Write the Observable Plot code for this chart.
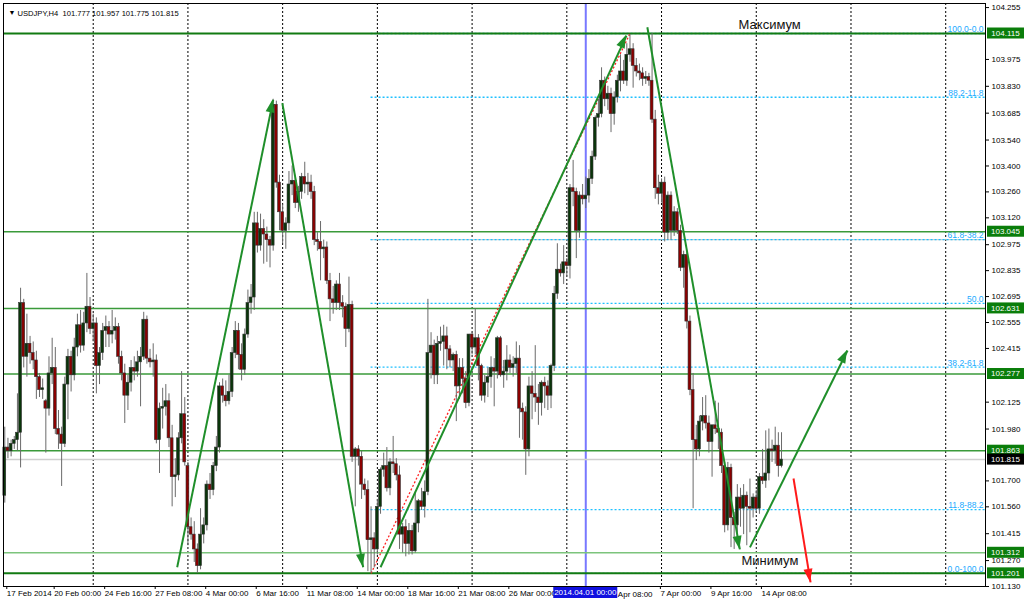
<!DOCTYPE html>
<html><head><meta charset="utf-8">
<script src="https://cdn.jsdelivr.net/npm/d3@7"></script>
<script src="https://cdn.jsdelivr.net/npm/@observablehq/plot@0.6"></script>
<style>
body{margin:0;background:#fff;}
#chart{width:1024px;height:602px;overflow:hidden;}
</style></head><body><div id="chart"></div>
<script>
// ---- candle data (USDJPY H4), bar index 0..246 ----
const open = [
101.62,101.88,101.86,101.90,101.92,101.96,102.66,102.37,102.44,102.39,
102.35,102.26,102.19,102.13,102.09,102.28,102.31,101.98,101.95,101.90,
102.22,102.37,102.27,102.42,102.54,102.43,102.55,102.64,102.52,102.55,
102.32,102.39,102.51,102.53,102.49,102.51,102.53,102.37,102.28,102.16,
102.23,102.31,102.29,102.34,102.37,102.57,102.36,102.34,102.35,101.92,
102.09,102.10,102.13,101.93,101.72,101.73,101.93,102.06,101.78,101.45,
101.41,101.33,101.24,101.41,101.46,101.68,101.65,101.78,101.88,102.21,
102.16,102.13,102.18,102.39,102.51,102.38,102.30,102.49,102.66,102.69,
103.09,102.97,103.06,103.03,103.00,102.97,103.73,103.31,103.15,103.05,
103.09,103.30,103.32,103.20,103.26,103.34,103.30,103.31,103.26,103.00,
102.99,102.95,102.96,102.78,102.68,102.66,102.76,102.66,102.64,102.52,
102.65,101.83,101.87,101.83,101.68,101.65,101.38,101.39,101.33,101.56,
101.76,101.78,101.66,101.80,101.79,101.73,101.41,101.45,101.36,101.43,
101.32,101.47,101.59,101.56,101.64,102.39,102.43,102.27,102.44,102.45,
102.48,102.41,102.35,102.38,102.21,102.31,102.25,102.12,102.49,102.42,
102.47,102.32,102.16,102.23,102.26,102.31,102.29,102.47,102.27,102.29,
102.35,102.31,102.33,102.36,102.09,102.07,101.87,102.21,102.17,102.15,
102.12,102.23,102.21,102.16,102.32,102.71,102.84,102.82,102.88,102.86,
103.28,103.26,103.05,103.24,103.22,103.24,103.33,103.45,103.66,103.68,
103.86,103.76,103.79,103.68,103.77,103.86,103.91,103.86,104.00,104.03,
103.94,103.91,103.90,103.87,103.88,103.86,103.65,103.28,103.25,103.31,
103.04,103.24,103.05,103.15,103.05,102.85,102.92,102.56,102.19,101.92,
101.87,102.02,102.05,102.01,101.91,102.00,101.98,101.96,101.78,101.46,
101.77,101.50,101.46,101.61,101.55,101.62,101.56,101.55,101.61,101.55,
101.72,101.70,101.74,101.87,101.86,101.89,101.78];
const high = [
101.99,101.93,101.92,101.94,102.17,102.74,102.68,102.60,102.48,102.45,
102.40,102.28,102.25,102.14,102.37,102.47,102.42,102.08,101.99,102.26,
102.41,102.40,102.47,102.60,102.62,102.61,102.82,102.69,102.60,102.58,
102.42,102.55,102.59,102.56,102.62,102.58,102.55,102.40,102.33,102.27,
102.35,102.37,102.40,102.42,102.61,102.59,102.41,102.44,102.38,102.12,
102.20,102.22,102.17,102.00,101.82,101.96,102.29,102.15,101.80,101.50,
101.48,101.36,101.55,101.50,101.70,101.74,101.80,101.94,102.23,102.25,
102.24,102.27,102.42,102.56,102.55,102.44,102.52,102.73,102.76,103.15,
103.15,103.14,103.11,103.07,103.02,103.76,103.75,103.35,103.19,103.12,
103.37,103.40,103.34,103.29,103.36,103.42,103.36,103.35,103.29,103.04,
103.10,103.00,102.99,102.82,102.75,102.78,102.82,102.70,102.66,102.80,
102.67,101.88,101.89,101.86,101.71,101.70,101.56,101.42,101.60,101.77,
101.85,101.88,101.82,101.94,101.82,101.78,101.47,101.49,101.47,101.46,
101.64,101.60,101.66,101.70,102.68,102.50,102.46,102.48,102.53,102.54,
102.53,102.43,102.39,102.40,102.36,102.36,102.29,102.49,102.50,102.63,
102.49,102.33,102.27,102.31,102.37,102.36,102.48,102.48,102.35,102.43,
102.38,102.37,102.45,102.43,102.12,102.10,102.26,102.29,102.43,102.22,
102.24,102.26,102.24,102.33,102.75,102.98,102.87,102.97,102.90,103.30,
103.43,103.28,103.26,103.30,103.34,103.38,103.48,103.67,103.76,103.93,
103.88,103.83,103.82,103.80,103.89,104.00,103.97,104.06,104.11,104.06,
103.98,103.95,103.93,103.91,103.90,104.115,103.70,103.35,103.33,103.34,
103.26,103.26,103.18,103.17,103.08,102.94,102.94,102.59,102.28,102.00,
102.05,102.15,102.16,102.05,102.00,102.13,102.12,101.98,101.80,101.80,
101.79,101.53,101.68,101.66,101.68,101.64,101.71,101.63,101.65,101.74,
101.87,101.97,101.98,101.92,101.99,101.96,101.96];
const low = [
101.58,101.82,101.83,101.87,101.86,101.77,102.31,102.26,102.33,102.30,
102.14,102.15,102.14,101.85,102.05,102.22,101.95,101.87,101.67,101.88,
102.03,102.18,102.24,102.37,102.39,102.40,102.50,102.49,102.45,102.17,
102.22,102.35,102.42,102.42,102.44,102.46,102.33,102.24,102.01,102.08,
102.18,102.24,102.26,102.10,102.35,102.33,102.31,102.26,101.90,101.74,
101.98,102.05,101.88,101.56,101.61,101.70,101.90,101.78,101.35,101.38,
101.26,101.20,101.22,101.36,101.43,101.60,101.62,101.75,101.85,102.12,
102.10,102.11,102.15,102.36,102.30,102.24,102.27,102.47,102.60,102.62,
102.93,102.94,102.87,102.88,102.85,102.94,103.28,103.05,102.98,102.95,
103.05,103.24,103.17,103.15,103.22,103.25,103.24,103.22,102.97,102.94,
102.78,102.90,102.76,102.56,102.60,102.62,102.62,102.58,102.42,102.50,
101.80,101.56,101.78,101.60,101.62,101.21,101.201,101.23,101.30,101.52,
101.72,101.64,101.62,101.74,101.70,101.33,101.31,101.29,101.30,101.30,
101.31,101.42,101.54,101.50,101.62,102.25,102.22,102.22,102.40,102.32,
102.30,102.31,102.29,102.02,102.14,102.17,102.09,102.10,102.38,102.38,
102.24,102.13,102.12,102.15,102.20,102.10,102.25,102.26,102.20,102.24,
102.28,102.26,102.28,101.93,101.92,101.73,101.83,102.03,102.07,102.00,
102.05,102.09,102.08,102.09,102.29,102.68,102.80,102.76,102.80,102.79,
103.18,102.90,103.01,103.19,103.17,103.20,103.30,103.43,103.61,103.66,
103.72,103.70,103.58,103.62,103.74,103.80,103.84,103.83,103.96,103.82,
103.88,103.86,103.83,103.84,103.83,103.63,103.22,103.19,103.20,102.99,
103.00,103.00,103.02,103.03,102.83,102.74,102.52,102.16,101.55,101.81,
101.83,101.97,101.98,101.85,101.72,101.95,101.87,101.74,101.42,101.43,
101.34,101.33,101.40,101.45,101.41,101.35,101.42,101.50,101.53,101.52,
101.68,101.66,101.70,101.80,101.79,101.72,101.77];
const close = [
101.88,101.86,101.90,101.92,101.96,102.66,102.37,102.44,102.39,102.35,
102.26,102.19,102.20,102.09,102.28,102.31,101.98,101.95,101.90,102.22,
102.37,102.27,102.42,102.54,102.43,102.55,102.64,102.52,102.55,102.32,
102.39,102.51,102.53,102.49,102.51,102.53,102.37,102.28,102.16,102.23,
102.31,102.29,102.34,102.37,102.57,102.36,102.34,102.35,101.92,102.09,
102.10,102.13,101.93,101.72,101.73,101.93,102.06,101.80,101.45,101.41,
101.33,101.24,101.41,101.46,101.68,101.65,101.78,101.88,102.21,102.16,
102.13,102.18,102.39,102.51,102.38,102.30,102.49,102.66,102.69,103.09,
102.97,103.06,103.03,103.00,102.97,103.73,103.31,103.15,103.05,103.09,
103.30,103.32,103.20,103.26,103.34,103.30,103.31,103.26,103.00,102.99,
102.95,102.96,102.78,102.68,102.66,102.76,102.66,102.64,102.52,102.65,
101.83,101.87,101.83,101.68,101.65,101.38,101.39,101.33,101.56,101.76,
101.78,101.66,101.80,101.79,101.73,101.41,101.45,101.36,101.43,101.32,
101.47,101.59,101.56,101.64,102.39,102.43,102.27,102.44,102.45,102.48,
102.41,102.35,102.38,102.21,102.31,102.25,102.12,102.49,102.42,102.47,
102.32,102.16,102.23,102.26,102.31,102.29,102.47,102.27,102.29,102.35,
102.31,102.33,102.36,102.09,102.07,101.87,102.21,102.17,102.15,102.12,
102.23,102.21,102.16,102.32,102.71,102.84,102.82,102.88,102.86,103.28,
103.26,103.05,103.24,103.22,103.24,103.33,103.45,103.66,103.68,103.86,
103.76,103.79,103.68,103.77,103.86,103.91,103.86,104.00,104.03,103.94,
103.91,103.90,103.87,103.88,103.86,103.65,103.28,103.25,103.31,103.04,
103.24,103.05,103.15,103.05,102.85,102.92,102.56,102.19,101.92,101.87,
102.02,102.05,102.01,101.91,102.00,101.98,101.96,101.78,101.46,101.77,
101.50,101.46,101.61,101.55,101.62,101.56,101.55,101.61,101.55,101.72,
101.70,101.74,101.87,101.86,101.89,101.78,101.815];

// ---- levels, ticks, labels ----
const levels = [104.115, 103.045, 102.631, 102.277, 101.863, 101.312, 101.201];
const levelStrong = [104.115, 101.201];
const bidPrice = 101.815;
const fibStartBar = 116;
const fibLevels = [104.115, 103.771, 103.002, 102.658, 102.314, 101.545, 101.201];
const fibLabels = ["100.0-0.0", "88.2-11.8", "61.8-38.2", "50.0", "38.2-61.8", "11.8-88.2", "0.0-100.0"];
const yTicks = [104.255, 103.975, 103.830, 103.685, 103.540, 103.400, 103.260, 103.120, 102.975,
  102.835, 102.695, 102.555, 102.415, 102.125, 101.980, 101.700, 101.560, 101.415, 101.270, 101.130];
const xTickBars = [0, 15, 31, 47, 63, 79, 95, 111, 127, 143, 159, 175, 191, 207, 223, 239];
const xTickLabels = ["17 Feb 2014", "20 Feb 00:00", "24 Feb 16:00", "27 Feb 08:00", "4 Mar 00:00",
  "6 Mar 16:00", "11 Mar 08:00", "14 Mar 00:00", "18 Mar 16:00", "21 Mar 08:00", "26 Mar 00:00",
  "", "", "7 Apr 00:00", "9 Apr 16:00", "14 Apr 08:00"];
const partialTick = {bar: 191, text: "Apr 08:00"};   // "2 Apr 08:00" partly under the date box
const gridBars = [28, 58, 88, 118, 148, 178, 208, 238, 268, 298];
const markerBar = 184;
const markerLabel = "2014.04.01 00:00";
const header = "USDJPY,H4  101.777 101.957 101.775 101.815";
// trend arrows: [bar1, price1, bar2(tip), price2]
const greenArrows = [
  [54.6, 101.234, 85.0, 103.757],
  [87.9, 103.739, 113.5, 101.234],
  [119.0, 101.234, 196.9, 104.104],
  [203.5, 104.149, 232.8, 101.330],
  [236.0, 101.341, 266.9, 102.404]
];
const redArrows = [[249.8, 101.713, 255.2, 101.152]];
const fibDiagonal = [[116, 101.201, 198, 104.115]];
const notes = [
  {bar: 232.4, price: 104.164, text: "Максимум"},
  {bar: 233.3, price: 101.270, text: "Минимум"}
];

const bars = close.map((c, i) => ({i, o: open[i], h: high[i], l: low[i], c}));
const labelMap = new Map(xTickBars.map((b, k) => [b, xTickLabels[k]]));
const xDomain = [-0.41, 310.6];
const yDomain = [101.130, 104.277];
const toSeg = a => ({x1: a[0], y1: a[1], x2: a[2], y2: a[3]});

const plot = Plot.plot({
  width: 1024, height: 602,
  marginTop: 3, marginBottom: 16, marginLeft: 3, marginRight: 39,
  x: {type: "linear", domain: xDomain, axis: null},
  y: {type: "linear", domain: yDomain, axis: null},
  color: {type: "identity"},
  style: {fontFamily: "Liberation Sans, Arial, sans-serif", fontSize: "8px", background: "#fff", color: "#000"},
  marks: [
    Plot.ruleX(gridBars, {x: d => d, stroke: "#000", strokeDasharray: "2,2", strokeWidth: 1}),
    Plot.ruleX([markerBar], {x: d => d, stroke: "#7878ff", strokeWidth: 2}),
    Plot.ruleY([fibLevels[2]], {y: d => d, x1: fibStartBar, x2: xDomain[1], stroke: "#c4c4c4", strokeWidth: 1}),
    Plot.ruleY(fibLevels, {y: d => d, x1: fibStartBar, x2: xDomain[1], stroke: "#1ec0ff", strokeWidth: 1.3, strokeDasharray: "2,2"}),
    Plot.text(fibLevels, {x: xDomain[1], y: d => d, text: (d, k) => fibLabels[k], textAnchor: "end", dx: -2, dy: -4, fill: "#22aaff", fontSize: 8.5}),
    Plot.ruleY(levels.filter(v => !levelStrong.includes(v)), {y: d => d, stroke: d => d === 101.312 ? "#7cc47c" : "#3a9a3a", strokeWidth: 1.5}),
    Plot.ruleY(levelStrong, {y: d => d, stroke: "#127a12", strokeWidth: 2}),
    Plot.ruleY([bidPrice], {y: d => d, stroke: "#cfcfcf", strokeWidth: 1.5}),
    Plot.link(fibDiagonal.map(toSeg), {x1: "x1", y1: "y1", x2: "x2", y2: "y2", stroke: "#ff2020", strokeWidth: 1.3, strokeDasharray: "2,2"}),
    Plot.ruleX(bars, {x: "i", y1: "l", y2: "h", stroke: "#6a6a6a", strokeWidth: 1}),
    Plot.rect(bars, {x1: d => d.i - 0.45, x2: d => d.i + 0.45, y1: "o", y2: "c",
      fill: d => d.c >= d.o ? "#0a350a" : "#8b0000", stroke: "#333", strokeWidth: 0.6}),
    Plot.link(greenArrows.map(toSeg), {x1: "x1", y1: "y1", x2: "x2", y2: "y2", stroke: "#1f8f2a", strokeWidth: 2}),
    Plot.link(redArrows.map(toSeg), {x1: "x1", y1: "y1", x2: "x2", y2: "y2", stroke: "#ff1a1a", strokeWidth: 2}),
    Plot.text(notes, {x: "bar", y: "price", text: "text", textAnchor: "start", fontSize: 13, fill: "#111"}),
    Plot.frame({stroke: "#000", strokeWidth: 1}),
    Plot.axisY(yTicks, {anchor: "right", tickSize: 3, tickPadding: 3, tickFormat: d => d.toFixed(3), fontSize: 8, stroke: "#000"}),
    Plot.axisX(xTickBars, {anchor: "bottom", tickSize: 3, tickPadding: 1, tickFormat: d => labelMap.get(d), textAnchor: "start", dx: 2, fontSize: 8, stroke: "#000"}),
    Plot.text([partialTick], {x: "bar", y: () => yDomain[0], text: "text", textAnchor: "start", dx: 10, dy: 8, fontSize: 8, fill: "#000"}),
    Plot.text([header], {frameAnchor: "top-left", text: d => d, dx: 14, dy: 7, textAnchor: "start", fontSize: 7.6, fill: "#000"}),
    Plot.text(["▼"], {frameAnchor: "top-left", text: d => d, dx: 5, dy: 7, textAnchor: "start", fontSize: 7, fill: "#000"})
  ]
});

// ---- overlays drawn through the plot's own scales ----
const xs = plot.scale("x"), ys = plot.scale("y");
const X = v => xs.apply(v), Y = v => ys.apply(v);
const svg = d3.select(plot);

function heads(list, color) {
  for (const a of list) {
    const x1 = X(a[0]), y1 = Y(a[1]), x2 = X(a[2]), y2 = Y(a[3]);
    const dx = x2 - x1, dy = y2 - y1, len = Math.hypot(dx, dy);
    const ux = dx / len, uy = dy / len, L = 13, W = 4.5;
    const bx = x2 - ux * L, by = y2 - uy * L;
    svg.append("polygon")
      .attr("points", [[x2, y2], [bx - uy * W, by + ux * W], [bx + uy * W, by - ux * W]].map(p => p.join(",")).join(" "))
      .attr("fill", color);
  }
}
heads(greenArrows, "#1f8f2a");
heads(redArrows, "#ff1a1a");

function priceBox(v, fill) {
  const g = svg.append("g");
  g.append("rect").attr("x", 987).attr("y", Y(v) - 5.5).attr("width", 37).attr("height", 11).attr("fill", fill);
  g.append("text").attr("x", 1005.5).attr("y", Y(v)).attr("dy", "0.34em").attr("text-anchor", "middle")
    .attr("fill", "#fff").attr("font-size", 8).text(v.toFixed(3));
}
levels.forEach(v => priceBox(v, "#0a7d0a"));
priceBox(bidPrice, "#000");

{
  const cx = X(markerBar);
  svg.append("rect").attr("x", cx - 32).attr("y", 587).attr("width", 64).attr("height", 11).attr("fill", "#1010e0");
  svg.append("text").attr("x", cx).attr("y", 592.5).attr("dy", "0.34em").attr("text-anchor", "middle")
    .attr("fill", "#fff").attr("font-size", 8).text(markerLabel);
}

document.getElementById("chart").appendChild(plot);
</script>
</body></html>
